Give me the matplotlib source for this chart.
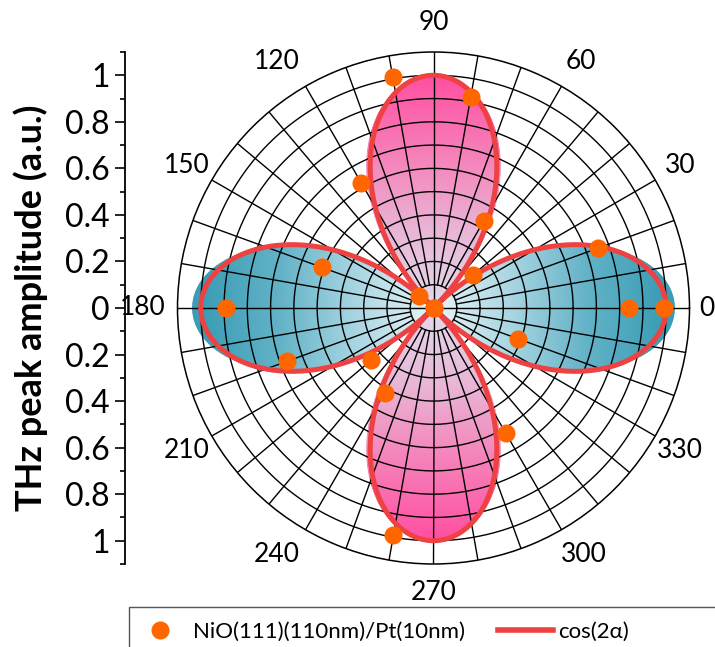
import numpy as np
import matplotlib
matplotlib.use("Agg")
import matplotlib.pyplot as plt
from matplotlib.colors import LinearSegmentedColormap
from matplotlib.lines import Line2D
from matplotlib.patches import Rectangle

plt.rcParams['font.family'] = ['Lato', 'DejaVu Sans']

# measured THz peak amplitude vs. angle (deg)
angle_deg = [0, 20, 40, 60, 80, 100, 120, 140, 160, 180,
             200, 220, 240, 260, 280, 300, 320, 340, 360]
amplitude = [0.99, 0.75, 0.22, 0.43, 0.92, 1.01, 0.62, 0.08, 0.51, 0.89,
             0.67, 0.35, 0.42, 0.99, 0.0, 0.62, 0.0, 0.385, 0.84]

angle_labels = [0, 30, 60, 90, 120, 150, 180, 210, 240, 270, 300, 330]
ring_values = [0.1, 0.2, 0.3, 0.4, 0.5, 0.6, 0.7, 0.8, 0.9, 1.0]
ytick_values = [-1.0, -0.8, -0.6, -0.4, -0.2, 0.0, 0.2, 0.4, 0.6, 0.8, 1.0]

W, H = 715, 647
fig = plt.figure(figsize=(W / 100, H / 100), dpi=100)

cx, cy, R = 433.5, 308, 256
ax = fig.add_axes([(cx - R) / W, 1 - (cy + R) / H, 2 * R / W, 2 * R / H], projection='polar')
ax.set_ylim(0, 1.1)
ax.set_xticks([])
ax.set_yticks([])
ax.grid(False)
ax.spines['polar'].set_linewidth(1.1)

teal = LinearSegmentedColormap.from_list('teal', ['#eaf6f9', '#a9d6e2', '#63b2c7', '#3a9db5'])
pink = LinearSegmentedColormap.from_list('pink', ['#e2dcec', '#e9b6d6', '#f680b9', '#ff4fa2'])


def lobe(center, scale, power, cmap, horizontal):
    t = np.linspace(center - np.pi / 4, center + np.pi / 4, 181)
    s = np.linspace(0, 1, 60)
    T, S = np.meshgrid(t, s)
    Rr = S * scale * np.abs(np.cos(2 * T)) ** power
    if horizontal:
        C = np.abs(Rr * np.cos(T))
    else:
        C = np.abs(Rr * np.sin(T))
    ax.pcolormesh(T, Rr, C, cmap=cmap, vmin=0, vmax=1.0, shading='gouraud', zorder=1)


for c in (np.pi / 2, 3 * np.pi / 2):
    lobe(c, 1.0, 0.88, pink, False)
for c in (0, np.pi):
    lobe(c, 1.035, 1.15, teal, True)

# grid
tt = np.linspace(0, 2 * np.pi, 400)
for r in ring_values:
    ax.plot(tt, np.full_like(tt, r), color='black', lw=1.0, zorder=2)
for a in range(0, 360, 10):
    r0 = 0 if a % 90 == 0 else 0.1
    ax.plot([np.radians(a)] * 2, [r0, 1.1], color='black', lw=1.0, zorder=2)

label_dx = {0: -12, 60: 5, 120: -14, 180: -6, 240: -14, 300: 8}
for a in angle_labels:
    ax.annotate(str(a), (np.radians(a), 1.1 * 285 / 256), xytext=(label_dx.get(a, 0), 0),
                textcoords='offset pixels', ha='center', va='center',
                fontsize=19, annotation_clip=False)

# model curve and data
th = np.linspace(0, 2 * np.pi, 720)
ax.plot(th, np.abs(np.cos(2 * th)), color='#ee4242', lw=3.6, zorder=3)
ax.plot(np.radians(angle_deg), amplitude, 'o', color='#ff6600', ms=13, mec='none', zorder=4)

# left amplitude axis
ay = fig.add_axes([125 / W, 1 - (cy + R) / H, 0.0001, 2 * R / H])
ay.set_ylim(-1.1, 1.1)
ay.set_xticks([])
for s in ('top', 'right', 'bottom'):
    ay.spines[s].set_visible(False)
ay.spines['left'].set_linewidth(1.3)
ay.patch.set_alpha(0)
ay.set_yticks(ytick_values)
ay.set_yticklabels(['%g' % abs(v) for v in ytick_values[::-1]], fontsize=23)
ay.set_yticks(np.arange(-1.1, 1.11, 0.1), minor=True)
ay.tick_params(axis='y', which='major', length=7, width=1.2, pad=4)
ay.tick_params(axis='y', which='minor', length=3.5, width=1.2)

fig.text(31 / W, 1 - 308 / H, 'THz peak amplitude (a.u.)', rotation=90,
         ha='center', va='center', fontsize=26, fontweight='bold')

# legend
fig.patches.append(Rectangle((129 / W, 1 - 660 / H), 600 / W, 53 / H, transform=fig.transFigure,
                             facecolor='white', edgecolor='#555555', lw=1.0, zorder=0))
handles = [Line2D([], [], marker='o', ls='none', color='#ff6600', ms=13, mec='none'),
           Line2D([], [], color='#ee4242', lw=4)]
fig.legend(handles, ['NiO(111)(110nm)/Pt(10nm)', 'cos(2\u03b1)'], ncol=2,
           loc='center left', bbox_to_anchor=(133 / W, 1 - 632 / H), fontsize=16,
           frameon=False, handlelength=2.45, handletextpad=0.25,
           columnspacing=1.5, borderpad=0, borderaxespad=0)

fig.savefig('out.png', dpi=100)
